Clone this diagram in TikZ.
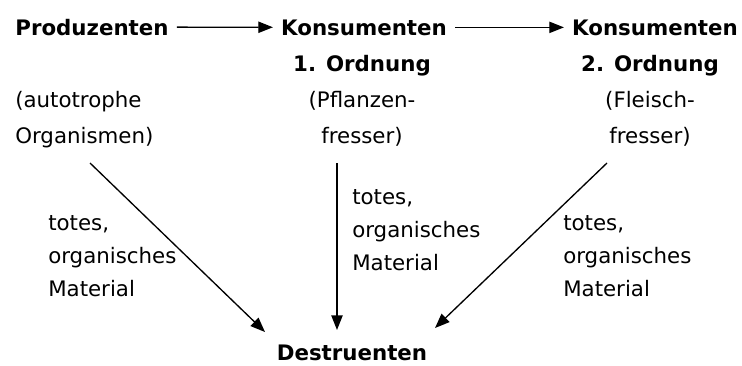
\documentclass[tikz,border=0pt]{standalone}
\usepackage{fontspec}
\setmainfont{DejaVu Sans}
\usetikzlibrary{arrows.meta}

\begin{document}
\begin{tikzpicture}[x=0.75pt, y=-0.75pt,
    titel/.style={font=\fontsize{16}{27}\selectfont\bfseries, inner xsep=6pt, inner ysep=0pt},
    txt/.style={font=\fontsize{16}{27}\selectfont, inner sep=0pt},
    lbl/.style={font=\fontsize{16}{24.5}\selectfont, inner sep=0pt, align=left, anchor=base west},
    pfeil/.style={line width=1pt, -{Triangle[length=11pt, width=8.5pt]}}]
  \useasboundingbox (0,0) rectangle (742,365);

  % Nahrungskette
  \node[titel, anchor=base] (prod)  at (92,35)  {Produzenten};
  \node[titel, anchor=base] (kons1) at (364,35) {Konsumenten};
  \node[titel, anchor=base] (kons2) at (655,35) {Konsumenten};
  \draw[pfeil] (prod) -- (kons1);
  \draw[pfeil] (kons1) -- (kons2);

  % base = letzte Zeile
  \node[txt, align=left, anchor=base west] (prodtxt) at (15,143) {(autotrophe\\Organismen)};
  \node[txt, align=center, anchor=base] (kons1txt) at (362,143) {\textbf{1. Ordnung}\\(Pflanzen-\\fresser)};
  \node[txt, align=center, anchor=base] (kons2txt) at (650,143) {\textbf{2. Ordnung}\\(Fleisch-\\fresser)};

  \node[titel, anchor=base] (dest) at (352,360) {Destruenten};

  % Abbau
  \coordinate (abP)  at (90,163);  \coordinate (anP)  at (265,332);
  \coordinate (abK1) at (337,163); \coordinate (anK1) at (337,330);
  \coordinate (abK2) at (607,163); \coordinate (anK2) at (435,328);

  \foreach \n/\x/\y in {P/48/296, K1/352/270, K2/563/296}{
    \node[lbl] (tot\n) at (\x,\y) {totes,\\organisches\\Material};
    \draw[pfeil] (ab\n) -- (an\n);
  }
\end{tikzpicture}
\end{document}
